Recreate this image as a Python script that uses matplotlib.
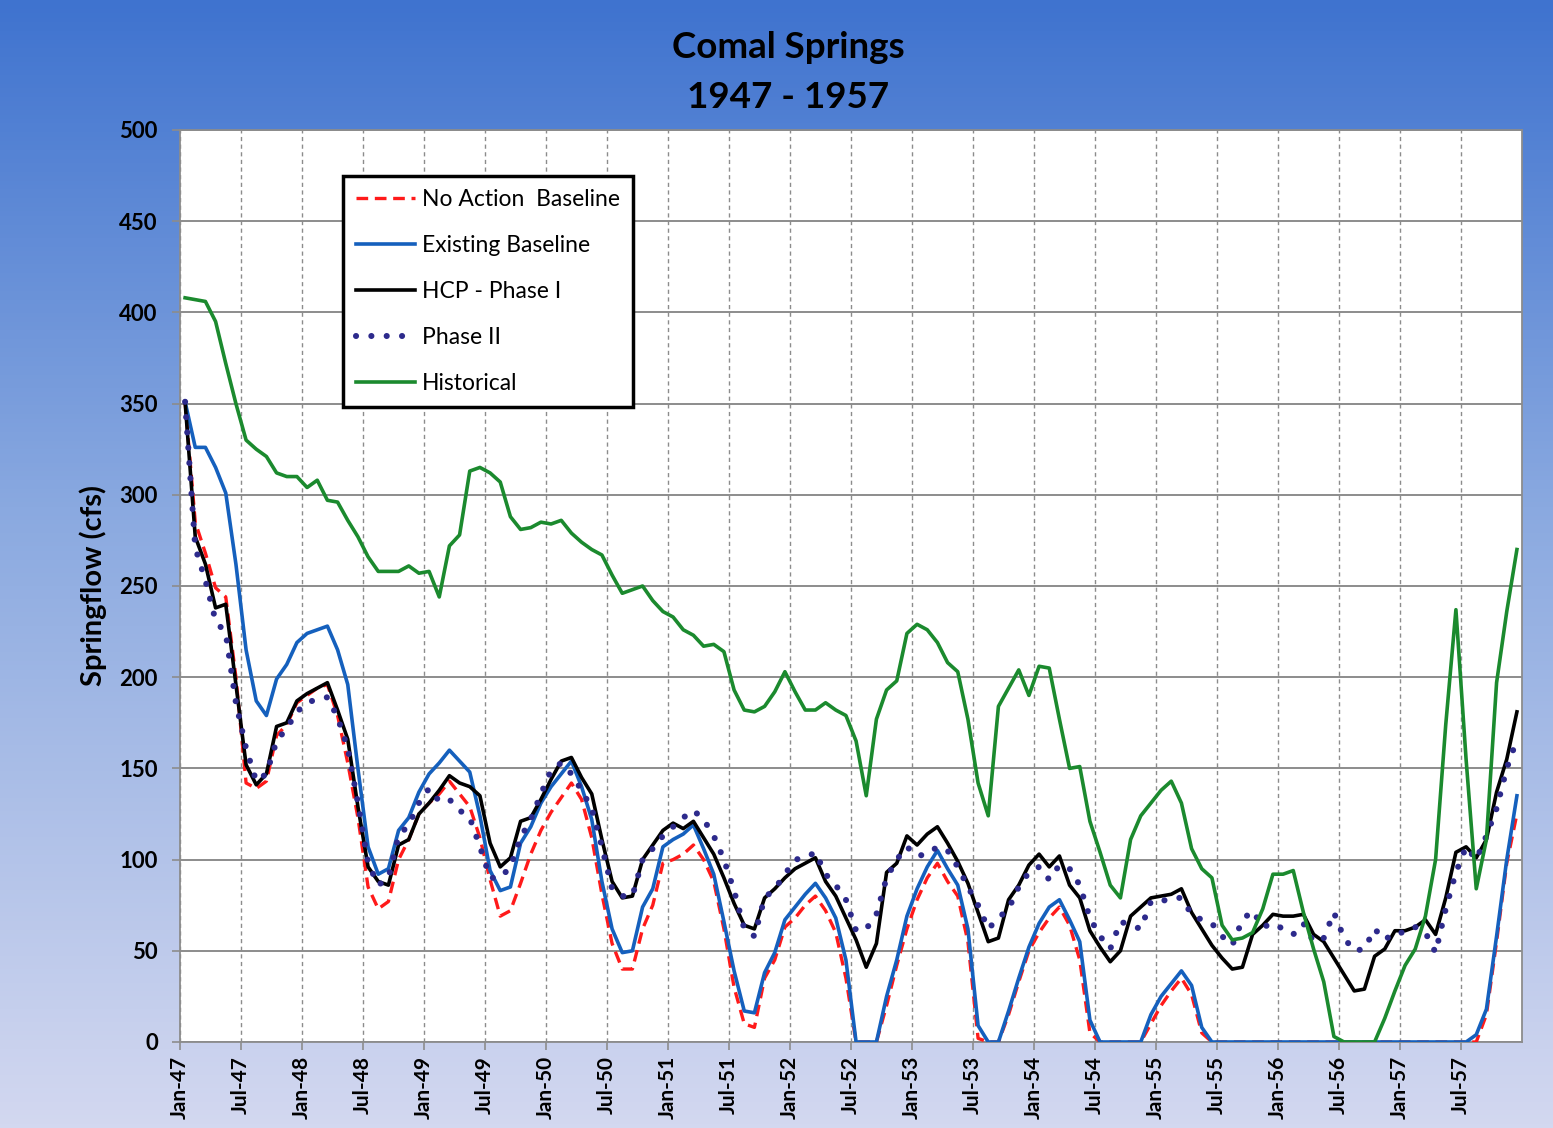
import numpy as np
import matplotlib
matplotlib.use("Agg")
import matplotlib.pyplot as plt
from matplotlib.colors import LinearSegmentedColormap

plt.rcParams['font.family'] = ['Lato', 'DejaVu Sans']

# monthly values Jan-47 .. Dec-57 (132 months)
no_action = [351, 285, 268, 249, 244, 200, 142, 139, 143, 168, 174, 186, 190, 194, 196, 179, 153, 123, 85, 73,
             77, 100, 111, 125, 131, 136, 143, 136, 129, 112, 89, 69, 72, 87, 103, 116, 126, 134, 142, 133,
             112, 81, 54, 40, 40, 62, 75, 98, 100, 103, 108, 100, 88, 62, 30, 10, 8, 35, 45, 63,
             68, 75, 80, 72, 60, 35, 0, 0, 0, 20, 42, 62, 78, 90, 98, 88, 80, 55, 2, 0,
             0, 15, 33, 50, 60, 68, 74, 64, 45, 5, 0, 0, 0, 0, 0, 10, 20, 28, 35, 26,
             5, 0, 0, 0, 0, 0, 0, 0, 0, 0, 0, 0, 0, 0, 0, 0, 0, 0, 0, 0,
             0, 0, 0, 0, 0, 0, 0, 0, 15, 55, 98, 125]

existing = [351, 326, 326, 315, 301, 262, 215, 187, 179, 199, 207, 219, 224, 226, 228, 215, 196, 150, 107, 92,
            95, 116, 123, 137, 147, 153, 160, 154, 148, 124, 94, 83, 85, 109, 118, 131, 140, 147, 154, 140,
            122, 88, 62, 49, 50, 74, 84, 107, 111, 114, 119, 106, 92, 66, 39, 17, 16, 38, 49, 67,
            74, 81, 87, 79, 68, 45, 0, 0, 0, 25, 45, 69, 84, 96, 105, 95, 86, 62, 9, 0,
            0, 17, 35, 52, 65, 74, 78, 67, 55, 12, 0, 0, 0, 0, 0, 15, 25, 32, 39, 31,
            8, 0, 0, 0, 0, 0, 0, 0, 0, 0, 0, 0, 0, 0, 0, 0, 0, 0, 0, 0,
            0, 0, 0, 0, 0, 0, 0, 4, 18, 58, 100, 135]

hcp_phase1 = [351, 277, 262, 238, 240, 196, 152, 141, 147, 173, 175, 187, 191, 194, 197, 182, 166, 129, 96, 88,
              86, 108, 111, 125, 131, 138, 146, 142, 140, 135, 109, 96, 101, 121, 123, 133, 144, 154, 156, 145,
              136, 111, 88, 79, 80, 100, 108, 116, 120, 117, 121, 112, 103, 90, 76, 64, 62, 79, 84, 90,
              95, 98, 101, 88, 80, 68, 56, 41, 54, 93, 98, 113, 108, 114, 118, 109, 99, 87, 71, 55,
              57, 78, 86, 97, 103, 96, 102, 86, 79, 61, 52, 44, 50, 69, 74, 79, 80, 81, 84, 71,
              62, 53, 46, 40, 41, 59, 64, 70, 69, 69, 70, 59, 55, 46, 37, 28, 29, 47, 51, 61,
              61, 63, 67, 59, 79, 104, 107, 101, 111, 137, 155, 181]

phase2 = [351, 271, 253, 231, 224, 186, 161, 143, 147, 165, 172, 181, 186, 188, 189, 178, 161, 131, 98, 86,
          90, 113, 119, 131, 139, 132, 133, 127, 123, 107, 90, 90, 96, 112, 122, 136, 149, 153, 147, 138,
          128, 107, 84, 80, 80, 100, 106, 113, 118, 123, 127, 122, 113, 100, 83, 62, 58, 79, 84, 92,
          100, 101, 104, 92, 86, 78, 61, 62, 70, 90, 100, 107, 102, 103, 107, 105, 96, 85, 75, 62,
          68, 73, 85, 93, 96, 89, 97, 95, 86, 68, 58, 51, 66, 64, 62, 77, 77, 79, 79, 70,
          67, 65, 58, 53, 67, 72, 63, 65, 62, 59, 65, 55, 57, 71, 57, 50, 51, 62, 56, 60,
          60, 63, 60, 49, 73, 93, 107, 100, 113, 128, 150, 166]

historical = [408, 407, 406, 395, 372, 350, 330, 325, 321, 312, 310, 310, 304, 308, 297, 296, 286, 277, 266, 258,
              258, 258, 261, 257, 258, 244, 272, 278, 313, 315, 312, 307, 288, 281, 282, 285, 284, 286, 279, 274,
              270, 267, 256, 246, 248, 250, 242, 236, 233, 226, 223, 217, 218, 214, 193, 182, 181, 184, 192, 203,
              192, 182, 182, 186, 182, 179, 165, 135, 177, 193, 198, 224, 229, 226, 219, 208, 203, 177, 142, 124,
              184, 194, 204, 190, 206, 205, 177, 150, 151, 121, 104, 86, 79, 111, 124, 131, 138, 143, 131, 106,
              95, 90, 64, 56, 57, 60, 73, 92, 92, 94, 71, 51, 33, 3, 0, 0, 0, 0, 13, 28,
              42, 51, 69, 100, 174, 237, 155, 84, 111, 197, 236, 270]

tick_months = list(range(0, 132, 6))
tick_labels = ['Jan-47', 'Jul-47', 'Jan-48', 'Jul-48', 'Jan-49', 'Jul-49', 'Jan-50', 'Jul-50',
               'Jan-51', 'Jul-51', 'Jan-52', 'Jul-52', 'Jan-53', 'Jul-53', 'Jan-54', 'Jul-54',
               'Jan-55', 'Jul-55', 'Jan-56', 'Jul-56', 'Jan-57', 'Jul-57']

x = np.arange(len(historical)) + 0.5

fig = plt.figure(figsize=(15.53, 11.28), dpi=100)

# background gradient
bg = fig.add_axes([0, 0, 1, 1], zorder=-10)
cmap = LinearSegmentedColormap.from_list('bg', [(0.0, '#3f73cf'), (0.45, '#8aa9e0'), (1.0, '#d3d8f0')])
grad = np.linspace(0, 1, 256).reshape(-1, 1)
bg.imshow(grad, aspect='auto', cmap=cmap, extent=[0, 1, 0, 1])
bg.axis('off')

ax = fig.add_axes([180 / 1553, 1 - 1042 / 1128, (1522 - 180) / 1553, (1042 - 130) / 1128])
ax.set_facecolor('white')

ax.plot(x, no_action, color='#ff1a1a', lw=2.4, ls=(0, (3.5, 2)), label='No Action  Baseline', zorder=3)
ax.plot(x, existing, color='#1560bd', lw=2.6, label='Existing Baseline', zorder=4)
ax.plot(x, hcp_phase1, color='black', lw=2.6, label='HCP - Phase I', zorder=5)
ax.plot(x, phase2, color='#2d2a8c', lw=4.4, ls=(0, (0.01, 2.5)), dash_capstyle='round',
        label='Phase II', zorder=6)
ax.plot(x, historical, color='#1b8a2e', lw=2.6, label='Historical', zorder=7)

ax.set_xlim(0, 132)
ax.set_ylim(0, 500)
ax.set_yticks(range(0, 501, 50))
ax.set_xticks(tick_months)
ax.set_xticklabels(tick_labels, rotation=90, fontsize=15, fontweight='bold')
for t in ax.get_yticklabels():
    t.set_fontsize(16)
    t.set_fontweight('bold')

ax.grid(axis='y', color='#8c8c8c', lw=1.4, ls='-', zorder=0)
ax.grid(axis='x', color='#8c8c8c', lw=1.0, ls=(0, (3, 2.5)), zorder=0)
ax.set_axisbelow(True)
for s in ax.spines.values():
    s.set_color('#8c8c8c')
    s.set_linewidth(1.3)
ax.tick_params(axis='both', color='#8c8c8c', direction='out', length=6, width=1.2)
ax.tick_params(axis='y', pad=10)
ax.tick_params(axis='x', pad=4)

leg = ax.legend(loc='upper left', bbox_to_anchor=((343 - 180) / 1342, (1042 - 176) / 912),
                borderaxespad=0, fontsize=16.5, frameon=True, fancybox=False,
                edgecolor='black', handlelength=2.6, handletextpad=0.3, labelspacing=1.1,
                borderpad=0.55)
leg.get_frame().set_linewidth(2.5)
leg.get_frame().set_facecolor('white')
leg.get_frame().set_alpha(1)

fig.text(788 / 1553, 1 - 48 / 1128, 'Comal Springs', ha='center', va='center',
         fontsize=26.5, fontweight='bold')
fig.text(788 / 1553, 1 - 97 / 1128, '1947 - 1957', ha='center', va='center',
         fontsize=26.5, fontweight='bold')
fig.text(93 / 1553, 1 - 585 / 1128, 'Springflow (cfs)', ha='center', va='center',
         rotation=90, fontsize=21, fontweight='bold')

fig.savefig('out.png', dpi=100)
